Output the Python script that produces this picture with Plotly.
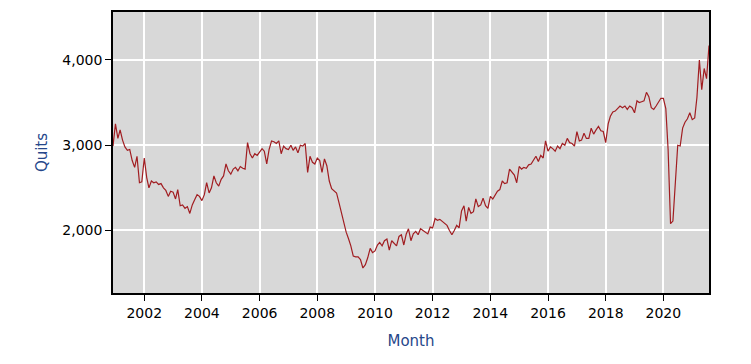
import plotly.graph_objects as go
import pandas as pd

# Monthly quits (thousands), Dec 2000 .. Aug 2021
start_month = "2000-12-01"
quits_2000 = [2990]
quits_2001 = [3250, 3080, 3180, 3060, 2980, 2940, 2950, 2820, 2740, 2870, 2560, 2570]
quits_2002 = [2850, 2620, 2500, 2580, 2560, 2570, 2540, 2550, 2500, 2470, 2400, 2460]
quits_2003 = [2450, 2370, 2480, 2290, 2300, 2260, 2280, 2200, 2300, 2360, 2420, 2400]
quits_2004 = [2350, 2420, 2560, 2440, 2500, 2640, 2560, 2520, 2600, 2640, 2780, 2700]
quits_2005 = [2660, 2720, 2740, 2700, 2750, 2730, 2720, 3030, 2900, 2850, 2900, 2880]
quits_2006 = [2920, 2960, 2930, 2780, 2950, 3050, 3040, 3020, 3050, 2900, 2990, 2960]
quits_2007 = [2950, 3000, 2940, 2980, 2910, 3000, 2990, 3020, 2680, 2870, 2800, 2780]
quits_2008 = [2850, 2820, 2680, 2840, 2760, 2580, 2490, 2460, 2440, 2330, 2210, 2080]
quits_2009 = [1980, 1900, 1820, 1700, 1690, 1690, 1660, 1560, 1600, 1680, 1790, 1740]
quits_2010 = [1760, 1830, 1860, 1820, 1880, 1900, 1770, 1880, 1850, 1820, 1930, 1950]
quits_2011 = [1830, 1960, 2020, 1880, 1960, 1990, 1950, 2020, 2000, 1980, 1960, 2040]
quits_2012 = [2030, 2140, 2120, 2130, 2110, 2090, 2060, 2000, 1950, 2000, 2060, 2030]
quits_2013 = [2230, 2290, 2110, 2270, 2200, 2220, 2370, 2280, 2300, 2380, 2290, 2260]
quits_2014 = [2400, 2370, 2420, 2460, 2480, 2580, 2550, 2560, 2720, 2680, 2650, 2560]
quits_2015 = [2750, 2720, 2740, 2730, 2770, 2780, 2820, 2870, 2810, 2880, 2850, 3050]
quits_2016 = [2930, 2980, 2960, 2930, 2990, 2960, 3020, 3000, 3080, 3030, 3020, 2990]
quits_2017 = [3160, 3050, 3060, 3140, 3080, 3080, 3200, 3130, 3180, 3220, 3170, 3160]
quits_2018 = [3030, 3250, 3340, 3390, 3400, 3430, 3460, 3440, 3460, 3420, 3460, 3440]
quits_2019 = [3380, 3520, 3500, 3510, 3520, 3620, 3570, 3440, 3420, 3460, 3500, 3550]
quits_2020 = [3550, 3430, 2950, 2080, 2110, 2600, 3000, 2990, 3200, 3270, 3310, 3380]
quits_2021 = [3300, 3320, 3560, 4000, 3650, 3900, 3780, 4170]

quits = (quits_2000 + quits_2001 + quits_2002 + quits_2003 + quits_2004 + quits_2005
         + quits_2006 + quits_2007 + quits_2008 + quits_2009 + quits_2010 + quits_2011
         + quits_2012 + quits_2013 + quits_2014 + quits_2015 + quits_2016 + quits_2017
         + quits_2018 + quits_2019 + quits_2020 + quits_2021)
months = pd.date_range(start_month, periods=len(quits), freq="MS")

y_ticks = [2000, 3000, 4000]
y_tick_labels = ["2,000", "3,000", "4,000"]

fig = go.Figure()
fig.add_trace(go.Scatter(x=months, y=quits, mode="lines",
                         line=dict(color="#a11d21", width=1.2),
                         hoverinfo="x+y", showlegend=False))

font_family = "DejaVu Sans, Verdana, sans-serif"
fig.update_layout(
    width=751, height=364,
    margin=dict(l=105, r=50, t=2, b=79),
    paper_bgcolor="white",
    plot_bgcolor="#d8d8d8",
    font=dict(family=font_family, size=14, color="black"),
)
fig.update_xaxes(
    range=[months[0], months[-1]],
    tickmode="linear", tick0="2002-01-01", dtick="M24", tickformat="%Y",
    showgrid=True, gridcolor="white", gridwidth=2,
    ticks="outside", ticklen=6, tickcolor="black", tickwidth=1,
    showline=True, linecolor="black", linewidth=1.5, mirror=True,
    title=dict(text="Month", font=dict(color="#26478a", size=15), standoff=16),
    zeroline=False,
)
fig.update_yaxes(
    range=[1267, 4562],
    tickmode="array", tickvals=y_ticks, ticktext=y_tick_labels,
    showgrid=True, gridcolor="white", gridwidth=2,
    ticks="outside", ticklen=6, tickcolor="black", tickwidth=1,
    showline=True, linecolor="black", linewidth=1.5, mirror=True,
    title=dict(text="Quits", font=dict(color="#26478a", size=15), standoff=11),
    zeroline=False,
)

fig.write_html("out.html")
